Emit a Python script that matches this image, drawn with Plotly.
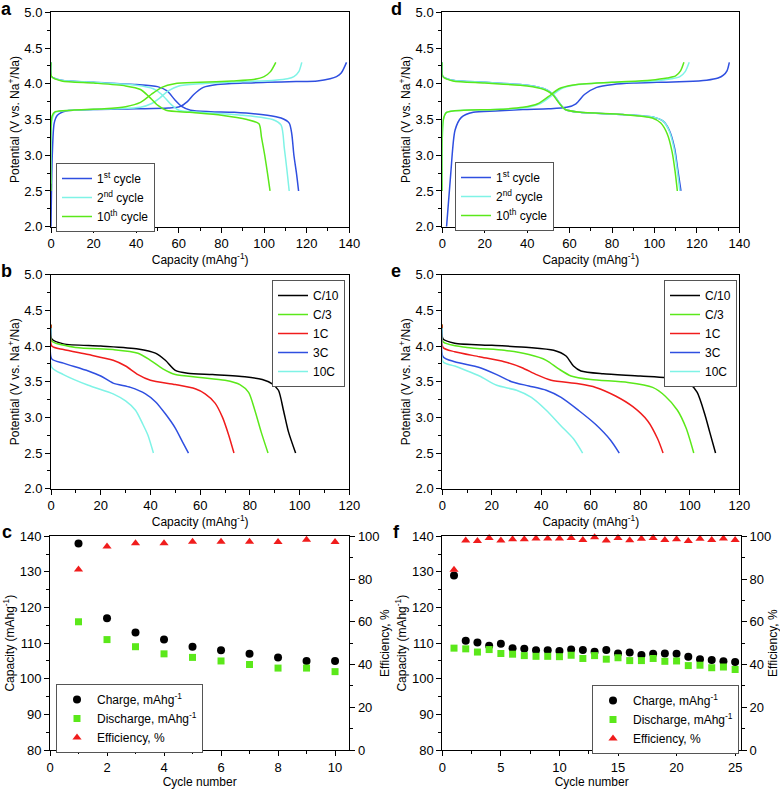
import plotly.graph_objects as go

# ---------------- Panel a (charge / discharge, cycles) ----------------
a_c1_chg_x = [0, 0.6, 1.5, 3, 7, 20, 40, 55, 60.5, 64, 67, 71.5, 78, 90, 101.5, 115, 125, 131, 134, 136.2, 138.7]
a_c1_chg_y = [2.0, 3.0, 3.45, 3.56, 3.62, 3.64, 3.65, 3.66, 3.68, 3.75, 3.85, 3.95, 3.99, 4.01, 4.02, 4.03, 4.04, 4.07, 4.1, 4.15, 4.3]
a_c1_dis_x = [0, 0.3, 5, 20, 40, 50, 54.5, 58, 61.5, 65.5, 75, 86, 101.5, 108, 111.8, 113, 114, 115.2, 116.2]
a_c1_dis_y = [4.3, 4.1, 4.05, 4.02, 3.99, 3.96, 3.9, 3.78, 3.68, 3.63, 3.61, 3.6, 3.56, 3.52, 3.45, 3.3, 3.0, 2.75, 2.5]
a_c2_chg_x = [0, 0.5, 2, 10, 30, 42, 47, 51, 55, 60, 70, 90, 105, 111, 114, 116.3, 117.7]
a_c2_chg_y = [2.6, 3.5, 3.6, 3.63, 3.65, 3.67, 3.72, 3.8, 3.9, 3.97, 4.0, 4.03, 4.05, 4.07, 4.1, 4.17, 4.3]
a_c2_dis_x = [0, 0.3, 5, 20, 40, 48, 52, 56, 60, 70, 90, 104, 108, 109.5, 110.7, 111.8]
a_c2_dis_y = [4.3, 4.1, 4.05, 4.02, 3.98, 3.93, 3.85, 3.72, 3.63, 3.6, 3.56, 3.5, 3.42, 3.1, 2.8, 2.5]
a_c10_chg_x = [0, 0.5, 2, 10, 25, 35, 42, 47, 52, 58, 70, 85, 95, 100, 103, 105.5]
a_c10_chg_y = [2.5, 3.55, 3.61, 3.63, 3.65, 3.68, 3.74, 3.85, 3.95, 4.0, 4.02, 4.04, 4.06, 4.1, 4.17, 4.3]
a_c10_dis_x = [0, 0.3, 5, 20, 35, 42, 46, 50, 54, 65, 80, 92, 97.6, 98.8, 100.3, 101.6, 102.8]
a_c10_dis_y = [4.3, 4.1, 4.04, 4.01, 3.97, 3.92, 3.82, 3.7, 3.63, 3.6, 3.56, 3.5, 3.44, 3.25, 3.0, 2.75, 2.5]

# ---------------- Panel d ----------------
d_c1_chg_x = [2, 4, 6, 9, 14.6, 25, 38, 50, 58.6, 63, 67, 72.8, 80.6, 90, 101, 115, 124.6, 130, 132.5, 134.2, 135.3]
d_c1_chg_y = [2.0, 2.75, 3.35, 3.53, 3.6, 3.62, 3.64, 3.65, 3.67, 3.72, 3.85, 3.95, 3.99, 4.01, 4.02, 4.03, 4.05, 4.08, 4.12, 4.18, 4.3]
d_c1_dis_x = [0, 0.3, 5, 20, 40, 48, 52, 55, 58, 65, 85, 100, 104, 107, 109.5, 111, 112.5]
d_c1_dis_y = [4.3, 4.1, 4.05, 4.02, 3.98, 3.93, 3.86, 3.74, 3.64, 3.6, 3.57, 3.53, 3.48, 3.35, 3.1, 2.8, 2.5]
d_c2_chg_x = [0, 0.5, 2, 10, 25, 38, 46, 51, 56, 62, 80, 100, 108, 112, 114.5, 116.4]
d_c2_chg_y = [2.5, 3.5, 3.6, 3.63, 3.64, 3.66, 3.72, 3.82, 3.93, 3.98, 4.02, 4.04, 4.07, 4.1, 4.17, 4.3]
d_c2_dis_x = [0, 0.3, 5, 20, 40, 48, 52, 55, 58, 65, 85, 100, 104, 106.8, 109.2, 110.7, 112]
d_c2_dis_y = [4.3, 4.1, 4.05, 4.02, 3.98, 3.93, 3.86, 3.74, 3.64, 3.6, 3.57, 3.53, 3.48, 3.35, 3.1, 2.8, 2.5]
d_c10_chg_x = [0, 0.5, 2, 10, 25, 38, 45, 50, 55, 61, 80, 98, 106, 110, 112.3, 113.9]
d_c10_chg_y = [2.5, 3.5, 3.6, 3.63, 3.64, 3.67, 3.72, 3.82, 3.93, 3.98, 4.02, 4.05, 4.08, 4.11, 4.18, 4.3]
d_c10_dis_x = [0, 0.3, 5, 20, 40, 48, 52, 55, 58, 65, 85, 99, 103, 106, 108.3, 109.7, 110.8]
d_c10_dis_y = [4.3, 4.1, 4.04, 4.01, 3.97, 3.92, 3.85, 3.73, 3.64, 3.6, 3.57, 3.52, 3.45, 3.3, 3.05, 2.78, 2.5]

# ---------------- Panel b (rate capability) ----------------
b_c10_x = [0, 0.3, 5, 20, 35, 42, 46, 50, 55, 65, 78, 85, 89, 91.5, 93.5, 95.5, 98.4]
b_c10_y = [4.3, 4.1, 4.03, 4.0, 3.96, 3.9, 3.8, 3.66, 3.62, 3.6, 3.57, 3.53, 3.47, 3.38, 3.1, 2.8, 2.5]
b_c3_x = [0, 0.3, 10, 25, 35, 40, 45, 50, 60, 70, 76, 79.5, 82, 84.5, 87.3]
b_c3_y = [4.3, 4.07, 3.98, 3.95, 3.9, 3.8, 3.68, 3.6, 3.56, 3.52, 3.46, 3.35, 3.1, 2.8, 2.5]
b_1c_x = [0, 0.3, 5, 15, 25, 30, 35, 40, 50, 58, 62, 66, 69, 71.5, 73.6]
b_1c_y = [4.3, 4.0, 3.95, 3.88, 3.8, 3.72, 3.6, 3.52, 3.46, 3.4, 3.33, 3.2, 3.0, 2.75, 2.5]
b_3c_x = [0, 0.3, 5, 15, 20, 25, 32, 38, 42, 46, 50, 53, 55.3]
b_3c_y = [4.25, 3.82, 3.76, 3.65, 3.58, 3.48, 3.42, 3.33, 3.22, 3.05, 2.85, 2.65, 2.5]
b_10c_x = [0, 0.3, 5, 15, 25, 30, 34, 37, 39, 41.2]
b_10c_y = [4.25, 3.7, 3.6, 3.45, 3.33, 3.23, 3.1, 2.9, 2.75, 2.5]

# ---------------- Panel e ----------------
e_c10_x = [0, 0.3, 5, 20, 35, 45, 50, 53, 56, 65, 80, 95, 100, 103, 106, 108, 110.4]
e_c10_y = [4.3, 4.1, 4.04, 4.01, 3.98, 3.94, 3.86, 3.72, 3.65, 3.61, 3.58, 3.54, 3.47, 3.35, 3.05, 2.8, 2.5]
e_c3_x = [0, 0.3, 10, 25, 35, 42, 47, 52, 60, 75, 85, 90, 95, 98.5, 101.6]
e_c3_y = [4.3, 4.06, 3.98, 3.94, 3.88, 3.8, 3.68, 3.58, 3.53, 3.49, 3.42, 3.3, 3.1, 2.85, 2.5]
e_1c_x = [0, 0.3, 5, 15, 25, 32, 38, 44, 55, 62, 70, 77, 83, 87, 89.2]
e_1c_y = [4.3, 3.98, 3.92, 3.85, 3.78, 3.7, 3.6, 3.52, 3.47, 3.42, 3.3, 3.15, 2.95, 2.7, 2.5]
e_3c_x = [0, 0.3, 5, 15, 22, 28, 35, 42, 48, 55, 62, 68, 71.5]
e_3c_y = [4.25, 3.85, 3.78, 3.7, 3.6, 3.5, 3.44, 3.38, 3.28, 3.1, 2.9, 2.68, 2.5]
e_10c_x = [0, 0.3, 5, 15, 22, 30, 36, 42, 48, 53, 56.7]
e_10c_y = [4.25, 3.78, 3.72, 3.58, 3.45, 3.38, 3.28, 3.1, 2.88, 2.7, 2.5]

# ---------------- Panel c (cycling, 10 cycles) ----------------
c_cycle = [1, 2, 3, 4, 5, 6, 7, 8, 9, 10]
c_charge = [138, 117, 113, 111, 109, 108, 107, 106, 105, 105]
c_discharge = [116, 111, 109, 107, 106, 105, 104, 103, 103, 102]
c_eff = [84.5, 95.2, 96.7, 96.7, 97.5, 97.5, 97.5, 97.3, 98.4, 97.3]

# ---------------- Panel f (cycling, 25 cycles) ----------------
f_cycle = list(range(1, 26))
f_charge = [129.0, 110.7, 110.2, 109.3, 109.8, 108.6, 108.4, 108.0, 108.0, 107.8, 108.2, 108.1, 107.6,
            108.1, 107.1, 107.4, 106.7, 107.0, 107.1, 107.0, 106.2, 105.5, 105.3, 104.9, 104.7]
f_discharge = [108.6, 108.4, 107.5, 108.2, 107.1, 106.9, 106.5, 106.3, 106.3, 106.2, 106.6, 105.7, 106.5,
               105.5, 105.9, 105.1, 105.1, 105.7, 104.9, 105.0, 103.7, 103.8, 103.1, 103.3, 102.6]
f_eff = [84.4, 98.0, 97.8, 99.2, 98.0, 98.6, 98.6, 99.0, 99.0, 99.0, 99.2, 98.3, 99.5,
         98.0, 99.2, 98.1, 98.9, 99.2, 98.3, 98.6, 97.8, 98.9, 98.3, 99.0, 98.3]

cycle_names = ["1<sup>st</sup> cycle", "2<sup>nd</sup> cycle", "10<sup>th</sup> cycle"]
rate_names = ["C/10", "C/3", "1C", "3C", "10C"]

# ---------------- styles ----------------
BLUE = "#2f4fe0"
CYAN = "#7ff3e6"
GREEN = "#5be81a"
RED = "#f01c1c"
BLACK = "#000000"
FONT = "Arial, Liberation Sans, sans-serif"
W, H = 780, 790

fig = go.Figure()


def line(xs, ys, color, name, xa, ya, leg, show=True, group=None):
    fig.add_trace(go.Scatter(
        x=xs, y=ys, mode="lines", name=name, xaxis=xa, yaxis=ya,
        line=dict(color=color, width=1.5, shape="spline", smoothing=0.7),
        legend=leg, showlegend=show, legendgroup=group or name))


# panel a
for (cx, cy, dx, dy), col, nm in zip(
        [(a_c1_chg_x, a_c1_chg_y, a_c1_dis_x, a_c1_dis_y),
         (a_c2_chg_x, a_c2_chg_y, a_c2_dis_x, a_c2_dis_y),
         (a_c10_chg_x, a_c10_chg_y, a_c10_dis_x, a_c10_dis_y)],
        [BLUE, CYAN, GREEN], cycle_names):
    line(cx, cy, col, nm, "x", "y", "legend", True, "a" + nm)
    line(dx, dy, col, nm, "x", "y", "legend", False, "a" + nm)

# panel d
for (cx, cy, dx, dy), col, nm in zip(
        [(d_c1_chg_x, d_c1_chg_y, d_c1_dis_x, d_c1_dis_y),
         (d_c2_chg_x, d_c2_chg_y, d_c2_dis_x, d_c2_dis_y),
         (d_c10_chg_x, d_c10_chg_y, d_c10_dis_x, d_c10_dis_y)],
        [BLUE, CYAN, GREEN], cycle_names):
    line(cx, cy, col, nm, "x2", "y2", "legend2", True, "d" + nm)
    line(dx, dy, col, nm, "x2", "y2", "legend2", False, "d" + nm)

RATE_COLS = [BLACK, GREEN, RED, BLUE, CYAN]
for (xs, ys), col, nm in zip([(b_c10_x, b_c10_y), (b_c3_x, b_c3_y), (b_1c_x, b_1c_y),
                              (b_3c_x, b_3c_y), (b_10c_x, b_10c_y)], RATE_COLS, rate_names):
    line(xs, ys, col, nm, "x3", "y3", "legend3", True, "b" + nm)
for (xs, ys), col, nm in zip([(e_c10_x, e_c10_y), (e_c3_x, e_c3_y), (e_1c_x, e_1c_y),
                              (e_3c_x, e_3c_y), (e_10c_x, e_10c_y)], RATE_COLS, rate_names):
    line(xs, ys, col, nm, "x4", "y4", "legend4", True, "e" + nm)

# panels c & f
for cyc, chg, dis, eff, xa, ya, ya2, leg in [
        (c_cycle, c_charge, c_discharge, c_eff, "x5", "y5", "y7", "legend5"),
        (f_cycle, f_charge, f_discharge, f_eff, "x6", "y6", "y8", "legend6")]:
    fig.add_trace(go.Scatter(x=cyc, y=chg, mode="markers", name="Charge, mAhg<sup>-1</sup>",
                             xaxis=xa, yaxis=ya, legend=leg, cliponaxis=False,
                             marker=dict(symbol="circle", size=8, color=BLACK)))
    fig.add_trace(go.Scatter(x=cyc, y=dis, mode="markers", name="Discharge, mAhg<sup>-1</sup>",
                             xaxis=xa, yaxis=ya, legend=leg, cliponaxis=False,
                             marker=dict(symbol="square", size=7, color=GREEN)))
    fig.add_trace(go.Scatter(x=cyc, y=eff, mode="markers", name="Efficiency, %",
                             xaxis=xa, yaxis=ya2, legend=leg, cliponaxis=False,
                             marker=dict(symbol="triangle-up", size=8, color=RED)))

# ---------------- axes ----------------
def px_x(a, b):
    return [a / W, b / W]


def px_y(top, bot):
    return [1 - bot / H, 1 - top / H]


def axis(dom, rng, dtick, mdtick, title, anchor, fmt=None, tick0=0, mirror=True, side=None, overlay=None):
    d = dict(domain=dom, range=rng, dtick=dtick, tick0=tick0, anchor=anchor,
             showline=True, linecolor="black", linewidth=1, mirror=mirror,
             ticks="outside", ticklen=5, tickcolor="black", tickwidth=1,
             minor=dict(ticks="outside", ticklen=3, tickcolor="black", dtick=mdtick, tick0=tick0),
             showgrid=False, zeroline=False, automargin=False,
             tickfont=dict(size=13, color="black", family=FONT),
             title=dict(text=title, font=dict(size=12, color="black", family=FONT), standoff=2))
    if fmt:
        d["tickformat"] = fmt
    if side:
        d["side"] = side
    if overlay:
        d["overlaying"] = overlay
        d.pop("domain")
    return d


XL = (51, 349.3)
XR = (442.3, 739.3)
YA = (12.3, 226.7)
YB = (274.7, 488.7)
YC = (536.3, 750)
cap = "Capacity (mAhg<sup>-1</sup>)"
pot = "Potential (V vs. Na<sup>+</sup>/Na)"

fig.update_layout(
    xaxis=axis(px_x(*XL), [0, 140], 20, 10, cap, "y"),
    yaxis=axis(px_y(*YA), [2, 5], 0.5, 0.25, pot, "x", ".1f", 2),
    xaxis2=axis(px_x(*XR), [0, 140], 20, 10, cap, "y2"),
    yaxis2=axis(px_y(*YA), [2, 5], 0.5, 0.25, pot, "x2", ".1f", 2),
    xaxis3=axis(px_x(*XL), [0, 120], 20, 10, cap, "y3"),
    yaxis3=axis(px_y(*YB), [2, 5], 0.5, 0.25, pot, "x3", ".1f", 2),
    xaxis4=axis(px_x(*XR), [0, 120], 20, 10, cap, "y4"),
    yaxis4=axis(px_y(*YB), [2, 5], 0.5, 0.25, pot, "x4", ".1f", 2),
    xaxis5=axis(px_x(50, 349.3), [0, 10.5], 2, 1, "Cycle number", "y5"),
    yaxis5=axis(px_y(*YC), [80, 140], 10, 5, "Capacity (mAhg<sup>-1</sup>)", "x5", tick0=80, mirror=False),
    yaxis7=axis(None, [0, 100], 20, 10, "Efficiency, %", "x5", mirror=False, side="right", overlay="y5"),
    xaxis6=axis(px_x(442.3, 741), [0, 25.5], 5, 2.5, "Cycle number", "y6"),
    yaxis6=axis(px_y(*YC), [80, 140], 10, 5, "Capacity (mAhg<sup>-1</sup>)", "x6", tick0=80, mirror=False),
    yaxis8=axis(None, [0, 100], 20, 10, "Efficiency, %", "x6", mirror=False, side="right", overlay="y6"),
)


def legend(x, y):
    return dict(x=x / W, y=1 - y / H, xanchor="left", yanchor="top", xref="paper", yref="paper",
                bgcolor="white", bordercolor="#555555", borderwidth=1,
                font=dict(size=12, color="black", family=FONT), tracegroupgap=0, itemwidth=30)


fig.update_layout(
    legend=legend(56, 163), legend2=legend(455, 162), legend3=legend(272, 280),
    legend4=legend(664, 280), legend5=legend(56, 684), legend6=legend(592, 685),
)

for letter, x, y in [("a", 7, 9), ("d", 396, 9), ("b", 7, 271), ("e", 396, 271), ("c", 7, 532), ("f", 396, 532)]:
    fig.add_annotation(text="<b>%s</b>" % letter, x=x / W, y=1 - y / H, xref="paper", yref="paper",
                       showarrow=False, font=dict(size=18, color="black", family=FONT),
                       xanchor="center", yanchor="middle")

fig.update_layout(width=W, height=H, margin=dict(l=0, r=0, t=0, b=0),
                  paper_bgcolor="white", plot_bgcolor="white",
                  font=dict(family=FONT, color="black"))

fig.write_html("out.html")
